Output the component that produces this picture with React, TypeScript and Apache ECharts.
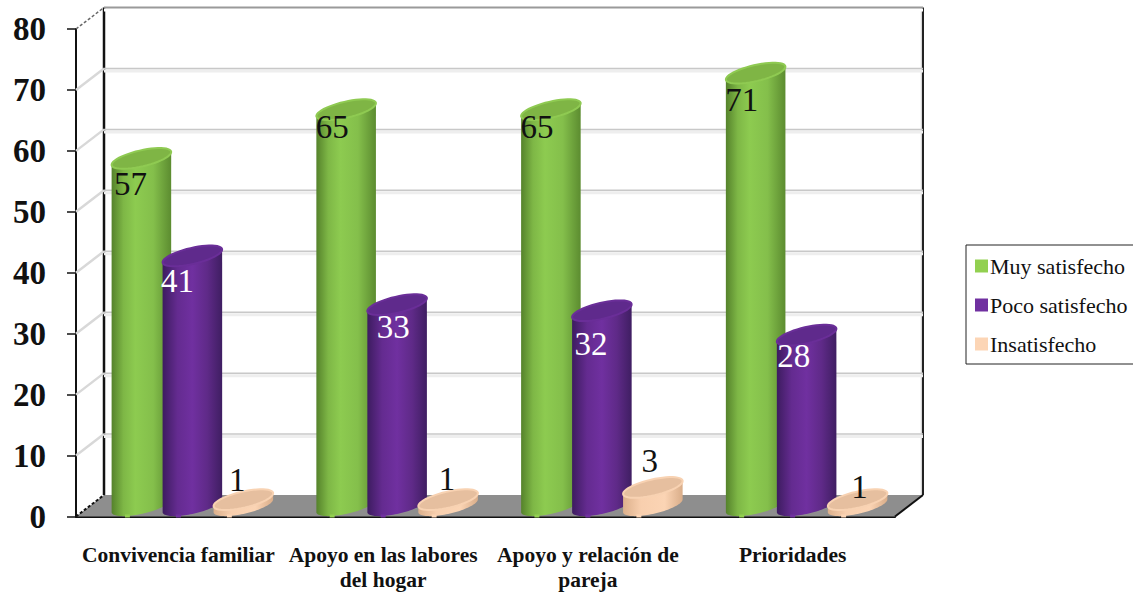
import React, { useEffect, useRef } from "react";
import * as echarts from "echarts";

const categories = [
  "Convivencia familiar",
  "Apoyo en las labores\ndel hogar",
  "Apoyo y relación de\npareja",
  "Prioridades",
];
const seriesNames = ["Muy satisfecho", "Poco satisfecho", "Insatisfecho"];
const muySatisfecho = [57, 65, 65, 71];
const pocoSatisfecho = [41, 33, 32, 28];
const insatisfecho = [1, 1, 3, 1];
const valueTicks = [0, 10, 20, 30, 40, 50, 60, 70, 80];

// Hand-placed value labels: shift from the front centre of each cylinder's top.
const labelShift = [
  [[3, 15], [0, 7], [0, 7], [0, 16]],
  [[-1, 14], [10, 12], [3, 22], [1, 10]],
  [[8, -30], [13, -31], [11, -37], [16, -23]],
];

const FONT = '"Liberation Serif", "Times New Roman", serif';
const DEPTH_X = 28;
const DEPTH_Y = -21.5;
const TILT = (-13 * Math.PI) / 180;

const palette = [
  {
    legend: "#92d050",
    top: "#7fb545",
    rim: "#8fca52",
    label: "#111",
    body: [
      [0, "#55822b"],
      [0.2, "#7eb746"],
      [0.4, "#8dcb50"],
      [0.7, "#84bf4b"],
      [1, "#5c8c30"],
    ],
  },
  {
    legend: "#7030a0",
    top: "#5f2a8c",
    rim: "#6a2e98",
    label: "#fff",
    body: [
      [0, "#3d1c60"],
      [0.25, "#642b90"],
      [0.5, "#7030a0"],
      [0.75, "#5f2a88"],
      [1, "#3f1e62"],
    ],
  },
  {
    legend: "#fcd5b5",
    top: "#e6bf9f",
    rim: "#f8d2b2",
    label: "#111",
    body: [
      [0, "#dcb08c"],
      [0.3, "#f8cfae"],
      [0.7, "#fbd4b4"],
      [1, "#d9ad89"],
    ],
  },
];

// Points of a tilted ellipse between two parameter angles.
function ellipseArc(cx: number, cy: number, rx: number, ry: number, from: number, to: number) {
  const pts: number[][] = [];
  const steps = 48;
  for (let i = 0; i <= steps; i++) {
    const t = from + ((to - from) * i) / steps;
    pts.push([
      cx + rx * Math.cos(t) * Math.cos(TILT) - ry * Math.sin(t) * Math.sin(TILT),
      cy + rx * Math.cos(t) * Math.sin(TILT) + ry * Math.sin(t) * Math.cos(TILT),
    ]);
  }
  return pts;
}

function cylinderSeries(seriesIndex: number, values: number[]) {
  const colors = palette[seriesIndex];
  return {
    type: "custom",
    name: seriesNames[seriesIndex],
    itemStyle: { color: colors.legend },
    encode: { x: 0, y: 1 },
    data: values.map((v, i) => [i, v]),
    silent: true,
    z: 3 + seriesIndex,
    renderItem: (_params: any, api: any) => {
      const cat = api.value(0);
      const value = api.value(1);
      const band = api.size([1, 0])[0];
      const radius = band * 0.149;
      const offset = band * 0.249 * (seriesIndex - 1);
      const [fx, fy] = api.coord([cat, value]);
      const [, f0] = api.coord([cat, 0]);
      const frontX = fx + offset;
      const cx = frontX + DEPTH_X / 2;
      const topY = fy + DEPTH_Y / 2;
      const baseY = f0 + DEPTH_Y / 2;
      const ry = 8;
      const t0 = Math.atan((-ry / radius) * Math.tan(TILT));
      const lower = ellipseArc(cx, baseY, radius, ry, t0, t0 + Math.PI);
      const topLower = ellipseArc(cx, topY, radius, ry, t0, t0 + Math.PI);
      const outline = [...lower, topLower[topLower.length - 1], topLower[0]];
      const shift = labelShift[seriesIndex][cat];
      return {
        type: "group",
        children: [
          {
            type: "polygon",
            shape: { points: outline },
            style: {
              fill: new echarts.graphic.LinearGradient(
                0,
                0,
                1,
                0,
                colors.body.map(([o, c]) => ({ offset: o as number, color: c as string })),
              ),
            },
          },
          {
            type: "polygon",
            shape: { points: ellipseArc(cx, topY, radius, ry, 0, Math.PI * 2) },
            style: { fill: colors.top, stroke: colors.rim, lineWidth: 2 },
          },
          {
            type: "rect",
            shape: { x: frontX - 2.5, y: f0 - 2, width: 5, height: 3 },
            style: { fill: colors.legend },
          },
          {
            type: "text",
            style: {
              text: String(value),
              x: frontX + shift[0],
              y: fy + shift[1],
              fill: colors.label,
              font: `33px ${FONT}`,
              align: "center",
              verticalAlign: "middle",
            },
          },
        ],
      };
    },
  };
}

// Back wall, side wall and floor of the box, placed from the value axis.
const wallSeries = {
  type: "custom",
  silent: true,
  z: 1,
  encode: { x: 0, y: 1 },
  data: valueTicks.map((v) => [0, v]),
  renderItem: (params: any, api: any) => {
    const value = api.value(1);
    const grid = params.coordSys;
    const y = api.coord([0, value])[1];
    const left = grid.x;
    const right = grid.x + grid.width;
    const backY = y + DEPTH_Y;
    const children: any[] = [];
    if (value === 0) {
      const topY = api.coord([0, valueTicks[valueTicks.length - 1]])[1] + DEPTH_Y;
      children.push(
        {
          type: "polygon",
          shape: {
            points: [
              [left, y],
              [left + DEPTH_X, backY],
              [right + DEPTH_X, backY],
              [right, y],
            ],
          },
          style: { fill: "#8e8e8e" },
        },
        {
          type: "line",
          shape: { x1: left + DEPTH_X, y1: topY, x2: left + DEPTH_X, y2: backY },
          style: { stroke: "#111", lineWidth: 2.5 },
        },
        {
          type: "line",
          shape: { x1: right + DEPTH_X - 1.5, y1: topY, x2: right + DEPTH_X - 1.5, y2: backY },
          style: { stroke: "#d8d8d8", lineWidth: 1.5 },
        },
        {
          type: "line",
          shape: { x1: right + DEPTH_X, y1: topY, x2: right + DEPTH_X, y2: backY },
          style: { stroke: "#222", lineWidth: 2 },
        },
        {
          type: "line",
          shape: { x1: right, y1: y, x2: right + DEPTH_X, y2: backY },
          style: { stroke: "#111", lineWidth: 2 },
        },
        {
          type: "line",
          shape: { x1: left, y1: y, x2: left + DEPTH_X, y2: backY },
          style: { stroke: "#111", lineWidth: 2, lineDash: [3, 2] },
        },
      );
    } else {
      const isTop = value === valueTicks[valueTicks.length - 1];
      children.push(
        {
          type: "rect",
          shape: { x: left + DEPTH_X, y: backY + 1, width: grid.width, height: 3 },
          style: { fill: isTop ? "#ffffff" : "#eeeeee" },
        },
        {
          type: "line",
          shape: { x1: left + DEPTH_X, y1: backY, x2: right + DEPTH_X, y2: backY },
          style: { stroke: isTop ? "#9a9a9a" : "#c8c8c8", lineWidth: isTop ? 2 : 1.5 },
        },
        {
          type: "line",
          shape: { x1: left, y1: y, x2: left + DEPTH_X, y2: backY },
          style: isTop
            ? { stroke: "#666", lineWidth: 1.5, lineDash: [3, 2] }
            : { stroke: "#d8d8d8", lineWidth: 2.5 },
        },
      );
    }
    return { type: "group", children };
  },
};

export default function App() {
  const ref = useRef<HTMLDivElement>(null);

  useEffect(() => {
    const chart = echarts.init(ref.current!, undefined, { renderer: "svg" });
    chart.setOption({
      animation: false,
      backgroundColor: "#ffffff",
      grid: { left: 76, top: 29, width: 819, height: 487.5, outerBoundsMode: "none" },
      legend: {
        orient: "vertical",
        left: 966,
        top: 245,
        data: seriesNames,
        icon: "rect",
        itemWidth: 13,
        itemHeight: 13,
        itemGap: 17,
        padding: [10, 7, 9, 9],
        borderColor: "#222",
        borderWidth: 1,
        backgroundColor: "#fff",
        textStyle: { fontFamily: FONT, fontSize: 22, color: "#111", padding: [0, 0, 0, -3] },
      },
      xAxis: {
        type: "category",
        data: categories,
        axisLine: { lineStyle: { color: "#111", width: 2 } },
        axisTick: { length: 8, lineStyle: { color: "#111", width: 1.5 } },
        axisLabel: {
          interval: 0,
          margin: 26,
          fontFamily: FONT,
          fontWeight: "bold",
          fontSize: 21.5,
          lineHeight: 25,
          color: "#111",
        },
        splitLine: { show: false },
      },
      yAxis: {
        type: "value",
        min: 0,
        max: 80,
        interval: 10,
        axisLine: { show: true, lineStyle: { color: "#111", width: 2 } },
        axisTick: { show: true, length: 9, lineStyle: { color: "#111", width: 1.5 } },
        axisLabel: {
          margin: 30,
          fontFamily: FONT,
          fontWeight: "bold",
          fontSize: 33,
          color: "#111",
        },
        splitLine: { show: false },
      },
      series: [
        wallSeries,
        cylinderSeries(0, muySatisfecho),
        cylinderSeries(1, pocoSatisfecho),
        cylinderSeries(2, insatisfecho),
      ],
    });
    return () => chart.dispose();
  }, []);

  return <div ref={ref} style={{ position: "fixed", left: 0, top: 0, width: 1133, height: 595 }} />;
}
